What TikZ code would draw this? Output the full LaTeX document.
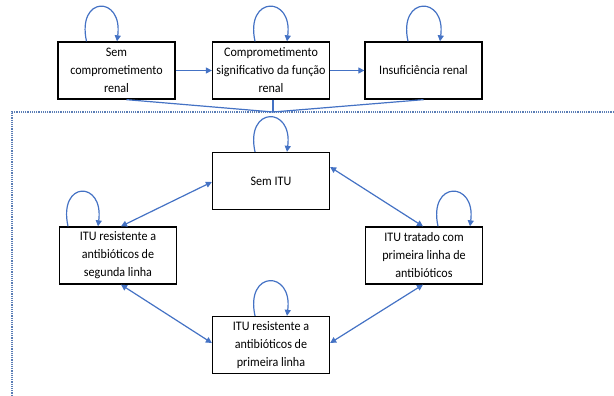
\documentclass[tikz,border=0pt]{standalone}
\usepackage{fontspec}
\setmainfont{Carlito}[FakeStretch=0.93]
\usetikzlibrary{arrows.meta,calc}
\definecolor{lnblue}{HTML}{4472C4}
\definecolor{dotblue}{HTML}{5A7DB5}
\begin{document}
\begin{tikzpicture}[x=1pt,y=-1pt,
  statebox/.style={draw=black,line width=1.3pt,minimum width=117pt,minimum height=57pt,
    align=center,inner sep=1pt,font=\fontsize{13}{18}\selectfont},
  conn/.style={draw=lnblue,line width=1.2pt},
  arr/.style={conn,-{Triangle[length=6pt,width=6pt]}},
  darr/.style={conn,{Triangle[length=6pt,width=6pt]}-{Triangle[length=6pt,width=6pt]}},
  selfloop/.style={arr}]
\useasboundingbox (0,0) rectangle (614,396);
\node[statebox] (b1) at (116.5,70.5) {Sem\\comprometimento\\renal};
\node[statebox] (b2) at (271,70.5) {Comprometimento\\significativo da função\\renal};
\node[statebox] (b3) at (423.5,70.5) {Insuficiência renal};
\node[statebox] (s0) at (271,181) {Sem ITU};
\node[statebox] (s2) at (118,255.5) {ITU resistente a\\antibióticos de\\segunda linha};
\node[statebox] (s1) at (424,255.5) {ITU tratado com\\primeira linha de\\antibióticos};
\node[statebox] (s3) at (271,345) {ITU resistente a\\antibióticos de\\primeira linha};
% dotted frame
\coordinate (fr) at (616,112);
\coordinate (fc) at (12,112);
\coordinate (fb) at (12,398);
\draw[dotblue,line width=1.2pt,densely dotted] (fr) -- (fc) -- (fb);
% converging lines
\coordinate (m) at (273,112);
\draw[conn] ($(b1.south)+(10,0)$) -- (m);
\draw[conn] ($(b2.south)+(2,0)$) -- (m);
\draw[conn] ($(b3.south)+(0,0)$) -- (m);
% top arrows
\draw[arr] (b1.east) -- (b2.west);
\draw[arr] (b2.east) -- (b3.west);
% self loops
\draw[selfloop] ($(b1.north)+(-30,0)$) .. controls +(-10,-46) and +(6,-46) .. ($(b1.north)+(0.5,0)$);
\draw[selfloop] ($(b2.north)+(-16,0)$) .. controls +(-10,-46) and +(6,-46) .. ($(b2.north)+(16,0)$);
\draw[selfloop] ($(b3.north)+(-15.5,0)$) .. controls +(-10,-46) and +(6,-46) .. ($(b3.north)+(16.5,0)$);
\draw[selfloop] ($(s0.north)+(-16,0)$) .. controls +(-10,-46) and +(6,-46) .. ($(s0.north)+(16,0)$);
\draw[selfloop] ($(s2.north)+(-50,0)$) .. controls +(-10,-46) and +(6,-46) .. ($(s2.north)+(-20,0)$);
\draw[selfloop] ($(s1.north)+(14,0)$) .. controls +(-10,-46) and +(6,-46) .. ($(s1.north)+(46,0)$);
\draw[selfloop] ($(s3.north)+(-16,0)$) .. controls +(-10,-46) and +(6,-46) .. ($(s3.north)+(16,0)$);
% double arrows
\draw[darr] ($(s0.west)+(0,1)$) -- ($(s2.north)+(3,0)$);
\draw[darr] ($(s0.east)+(0,-14)$) -- ($(s1.north)+(-1,0)$);
\draw[darr] ($(s2.south)+(3,0)$) -- ($(s3.west)+(0,-2)$);
\draw[darr] ($(s1.south)+(-1,0)$) -- ($(s3.east)+(0,-2)$);
\end{tikzpicture}
\end{document}
